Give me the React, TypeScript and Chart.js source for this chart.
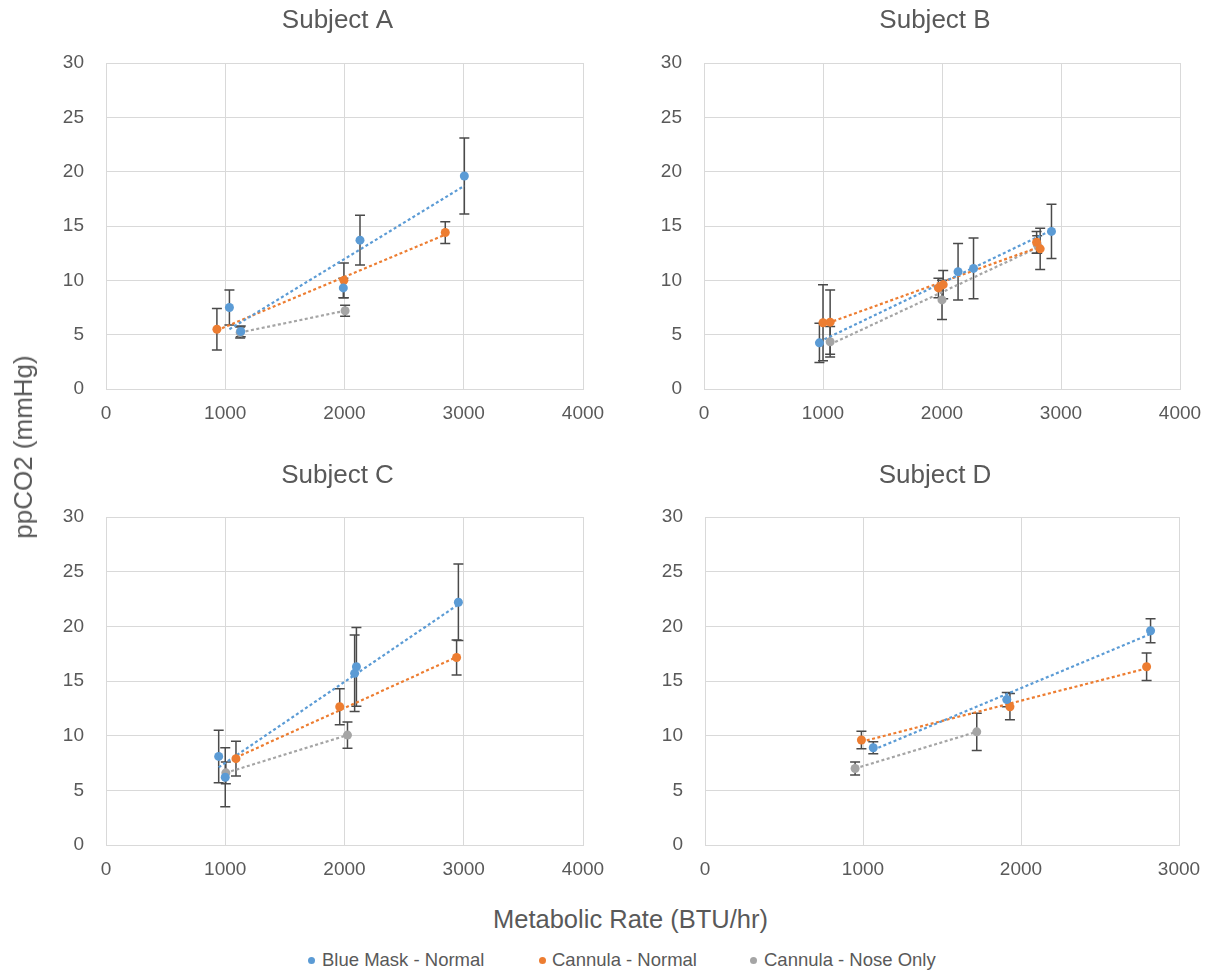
import React, { useEffect, useRef } from "react";
import { Chart, registerables } from "chart.js";

Chart.register(...registerables);

// ---------- data ----------
const SERIES_NAMES = ["Blue Mask - Normal", "Cannula - Normal", "Cannula - Nose Only"];
const SERIES_COLORS = ["#5b9bd5", "#ed7d31", "#a5a5a5"];
const PANEL_TITLES = ["Subject A", "Subject B", "Subject C", "Subject D"];
const Y_TICK_STEP = 5;
const Y_MAX = 30;
const X_MAX_ABC = 4000;
const X_MAX_D = 3000;
const X_TICK_STEP = 1000;
const X_AXIS_TITLE = "Metabolic Rate (BTU/hr)";
const Y_AXIS_TITLE = "ppCO2 (mmHg)";

// Subject A
const A_BLUE_X = [1035, 1130, 1990, 2130, 3005];
const A_BLUE_Y = [7.5, 5.3, 9.3, 13.7, 19.6];
const A_BLUE_ERR = [1.6, 0.5, 0.9, 2.3, 3.5];
const A_ORANGE_X = [930, 1995, 2845];
const A_ORANGE_Y = [5.5, 10.0, 14.4];
const A_ORANGE_ERR = [1.9, 1.6, 1.0];
const A_GRAY_X = [1125, 2005];
const A_GRAY_Y = [5.2, 7.2];
const A_GRAY_ERR = [0.5, 0.5];
const A_BLUE_TREND_X = [1035, 3005];
const A_BLUE_TREND_Y = [5.5, 18.7];
const A_ORANGE_TREND_X = [930, 2845];
const A_ORANGE_TREND_Y = [5.4, 14.2];
const A_GRAY_TREND_X = [1125, 2005];
const A_GRAY_TREND_Y = [5.2, 7.2];

// Subject B
const B_BLUE_X = [970, 2135, 2265, 2920];
const B_BLUE_Y = [4.25, 10.8, 11.1, 14.5];
const B_BLUE_ERR = [1.8, 2.6, 2.8, 2.5];
const B_ORANGE_X = [1000, 1060, 1970, 2010, 2795, 2825];
const B_ORANGE_Y = [6.1, 6.15, 9.3, 9.6, 13.5, 12.9];
const B_ORANGE_ERR = [3.5, 2.95, 0.9, 1.3, 1.0, 1.9];
const B_GRAY_X = [1060, 2000, 2800];
const B_GRAY_Y = [4.35, 8.2, 13.3];
const B_GRAY_ERR = [1.4, 1.8, 0.8];
const B_BLUE_TREND_X = [970, 2920];
const B_BLUE_TREND_Y = [4.35, 14.6];
const B_ORANGE_TREND_X = [1000, 2825];
const B_ORANGE_TREND_Y = [5.9, 13.1];
const B_GRAY_TREND_X = [1060, 2800];
const B_GRAY_TREND_Y = [4.1, 13.0];

// Subject C
const C_BLUE_X = [945, 1000, 2085, 2100, 2955];
const C_BLUE_Y = [8.1, 6.2, 15.7, 16.3, 22.2];
const C_BLUE_ERR = [2.4, 2.7, 3.5, 3.6, 3.5];
const C_ORANGE_X = [1090, 1960, 2940];
const C_ORANGE_Y = [7.9, 12.65, 17.15];
const C_ORANGE_ERR = [1.6, 1.65, 1.6];
const C_GRAY_X = [1005, 2025];
const C_GRAY_Y = [6.6, 10.05];
const C_GRAY_ERR = [1.0, 1.2];
const C_BLUE_TREND_X = [945, 2955];
const C_BLUE_TREND_Y = [7.1, 22.0];
const C_ORANGE_TREND_X = [1090, 2940];
const C_ORANGE_TREND_Y = [8.0, 17.2];
const C_GRAY_TREND_X = [1005, 2025];
const C_GRAY_TREND_Y = [6.6, 10.05];

// Subject D
const D_BLUE_X = [1065, 1910, 2820];
const D_BLUE_Y = [8.9, 13.3, 19.6];
const D_BLUE_ERR = [0.55, 0.65, 1.1];
const D_ORANGE_X = [990, 1930, 2795];
const D_ORANGE_Y = [9.6, 12.65, 16.3];
const D_ORANGE_ERR = [0.8, 1.2, 1.25];
const D_GRAY_X = [950, 1720];
const D_GRAY_Y = [7.0, 10.35];
const D_GRAY_ERR = [0.6, 1.7];
const D_BLUE_TREND_X = [1065, 2820];
const D_BLUE_TREND_Y = [8.7, 19.3];
const D_ORANGE_TREND_X = [990, 2795];
const D_ORANGE_TREND_Y = [9.45, 16.15];
const D_GRAY_TREND_X = [950, 1720];
const D_GRAY_TREND_Y = [7.0, 10.35];

// ---------- styling ----------
const FONT = "'Liberation Sans', Arial, Helvetica, sans-serif";
const TEXT_COLOR = "#595959";
const GRID_COLOR = "#d9d9d9";
const ERR_COLOR = "#4a4a4a";

type Series = { x: number[]; y: number[]; err: number[]; tx: number[]; ty: number[] };

const PANEL_SERIES: Series[][] = [
  [
    { x: A_BLUE_X, y: A_BLUE_Y, err: A_BLUE_ERR, tx: A_BLUE_TREND_X, ty: A_BLUE_TREND_Y },
    { x: A_ORANGE_X, y: A_ORANGE_Y, err: A_ORANGE_ERR, tx: A_ORANGE_TREND_X, ty: A_ORANGE_TREND_Y },
    { x: A_GRAY_X, y: A_GRAY_Y, err: A_GRAY_ERR, tx: A_GRAY_TREND_X, ty: A_GRAY_TREND_Y },
  ],
  [
    { x: B_BLUE_X, y: B_BLUE_Y, err: B_BLUE_ERR, tx: B_BLUE_TREND_X, ty: B_BLUE_TREND_Y },
    { x: B_ORANGE_X, y: B_ORANGE_Y, err: B_ORANGE_ERR, tx: B_ORANGE_TREND_X, ty: B_ORANGE_TREND_Y },
    { x: B_GRAY_X, y: B_GRAY_Y, err: B_GRAY_ERR, tx: B_GRAY_TREND_X, ty: B_GRAY_TREND_Y },
  ],
  [
    { x: C_BLUE_X, y: C_BLUE_Y, err: C_BLUE_ERR, tx: C_BLUE_TREND_X, ty: C_BLUE_TREND_Y },
    { x: C_ORANGE_X, y: C_ORANGE_Y, err: C_ORANGE_ERR, tx: C_ORANGE_TREND_X, ty: C_ORANGE_TREND_Y },
    { x: C_GRAY_X, y: C_GRAY_Y, err: C_GRAY_ERR, tx: C_GRAY_TREND_X, ty: C_GRAY_TREND_Y },
  ],
  [
    { x: D_BLUE_X, y: D_BLUE_Y, err: D_BLUE_ERR, tx: D_BLUE_TREND_X, ty: D_BLUE_TREND_Y },
    { x: D_ORANGE_X, y: D_ORANGE_Y, err: D_ORANGE_ERR, tx: D_ORANGE_TREND_X, ty: D_ORANGE_TREND_Y },
    { x: D_GRAY_X, y: D_GRAY_Y, err: D_GRAY_ERR, tx: D_GRAY_TREND_X, ty: D_GRAY_TREND_Y },
  ],
];

// layout of each panel canvas (page pixels)
const PANEL_LAYOUT = [
  { left: 0, top: 0, width: 610, height: 430, padRight: 27, titleY: 21, xMax: X_MAX_ABC },
  { left: 598, top: 0, width: 610, height: 430, padRight: 28, titleY: 21, xMax: X_MAX_ABC },
  { left: 0, top: 454, width: 610, height: 432, padRight: 27, titleY: 22, xMax: X_MAX_ABC },
  { left: 599, top: 454, width: 610, height: 432, padRight: 30, titleY: 22, xMax: X_MAX_D },
];

const errorBarPlugin = {
  id: "errorBars",
  beforeDatasetsDraw(chart: any) {
    const { ctx } = chart;
    const xs = chart.scales.x;
    const ys = chart.scales.y;
    ctx.save();
    ctx.strokeStyle = ERR_COLOR;
    ctx.lineWidth = 1.5;
    chart.data.datasets.forEach((ds: any) => {
      if (!ds.errors) return;
      ds.data.forEach((p: any, i: number) => {
        const e = ds.errors[i];
        const px = xs.getPixelForValue(p.x);
        const top = ys.getPixelForValue(p.y + e);
        const bot = ys.getPixelForValue(p.y - e);
        ctx.beginPath();
        ctx.moveTo(px, top);
        ctx.lineTo(px, bot);
        ctx.moveTo(px - 5, top);
        ctx.lineTo(px + 5, top);
        ctx.moveTo(px - 5, bot);
        ctx.lineTo(px + 5, bot);
        ctx.stroke();
      });
    });
    ctx.restore();
  },
};

const panelTitlePlugin = {
  id: "panelTitle",
  afterDraw(chart: any, _args: any, opts: any) {
    const { ctx, chartArea } = chart;
    ctx.save();
    ctx.font = `26px ${FONT}`;
    ctx.fillStyle = TEXT_COLOR;
    ctx.textAlign = "center";
    ctx.textBaseline = "middle";
    ctx.fillText(opts.text, (chartArea.left + chartArea.right) / 2 - 7, opts.y);
    ctx.restore();
  },
};

const plainNumber = (v: any) => String(v);

function Panel({ index }: { index: number }) {
  const ref = useRef<HTMLCanvasElement | null>(null);
  const lay = PANEL_LAYOUT[index];
  useEffect(() => {
    if (!ref.current) return;
    const series = PANEL_SERIES[index];
    const datasets: any[] = [];
    series.forEach((s, si) => {
      datasets.push({
        label: SERIES_NAMES[si] + " trend",
        data: s.tx.map((x, i) => ({ x, y: s.ty[i] })),
        showLine: true,
        borderColor: SERIES_COLORS[si],
        borderWidth: 2.2,
        borderDash: [3, 2.5],
        pointRadius: 0,
        fill: false,
        order: 5,
      });
    });
    series.forEach((s, si) => {
      datasets.push({
        label: SERIES_NAMES[si],
        data: s.x.map((x, i) => ({ x, y: s.y[i] })),
        errors: s.err,
        showLine: false,
        pointRadius: 4.5,
        pointBackgroundColor: SERIES_COLORS[si],
        pointBorderWidth: 0,
        borderColor: SERIES_COLORS[si],
        order: 1,
      });
    });
    const tickFont = { family: FONT, size: 19 };
    const chart = new Chart(ref.current, {
      type: "scatter",
      data: { datasets },
      plugins: [errorBarPlugin, panelTitlePlugin],
      options: {
        animation: false,
        responsive: false,
        devicePixelRatio: 1,
        layout: { padding: { top: 63, left: 0, right: lay.padRight, bottom: 0 } },
        plugins: {
          legend: { display: false },
          tooltip: { enabled: false },
          title: { display: false },
          panelTitle: { text: PANEL_TITLES[index], y: lay.titleY },
        } as any,
        scales: {
          x: {
            type: "linear",
            min: 0,
            max: lay.xMax,
            ticks: {
              stepSize: X_TICK_STEP,
              color: TEXT_COLOR,
              font: tickFont,
              padding: 13,
              maxRotation: 0,
              autoSkip: false,
              callback: plainNumber,
            },
            grid: { color: GRID_COLOR, drawTicks: false, lineWidth: 1 },
            border: { color: GRID_COLOR },
            afterFit: (scale: any) => {
              scale.height = 41;
              scale.paddingLeft = 0;
              scale.paddingRight = 0;
            },
          },
          y: {
            type: "linear",
            min: 0,
            max: Y_MAX,
            ticks: {
              stepSize: Y_TICK_STEP,
              color: TEXT_COLOR,
              font: tickFont,
              padding: 22,
              callback: plainNumber,
            },
            grid: { color: GRID_COLOR, drawTicks: false, lineWidth: 1 },
            border: { color: GRID_COLOR },
            afterFit: (scale: any) => {
              scale.width = 106;
              scale.paddingTop = 0;
              scale.paddingBottom = 0;
            },
          },
        },
      } as any,
    });
    return () => chart.destroy();
  }, [index]);
  return (
    <canvas
      ref={ref}
      width={lay.width}
      height={lay.height}
      style={{ position: "absolute", left: lay.left, top: lay.top, width: lay.width, height: lay.height }}
    />
  );
}

const LEGEND_POS = [
  { dot: 311, text: 322 },
  { dot: 542, text: 552 },
  { dot: 753, text: 764 },
];

export default function App() {
  return (
    <div
      style={{
        position: "absolute",
        left: 0,
        top: 0,
        width: 1211,
        height: 972,
        background: "#ffffff",
        overflow: "hidden",
        fontFamily: FONT,
        color: TEXT_COLOR,
      }}
    >
      {[0, 1, 2, 3].map((i) => (
        <Panel key={i} index={i} />
      ))}
      <div
        style={{
          position: "absolute",
          left: 23,
          top: 447,
          transform: "translate(-50%, -50%) rotate(-90deg)",
          fontSize: 26,
          lineHeight: 1,
          whiteSpace: "nowrap",
        }}
      >
        {Y_AXIS_TITLE}
      </div>
      <div
        style={{
          position: "absolute",
          left: 493,
          top: 920,
          transform: "translateY(-50%)",
          fontSize: 25.5,
          lineHeight: 1,
          whiteSpace: "nowrap",
        }}
      >
        {X_AXIS_TITLE}
      </div>
      {SERIES_NAMES.map((name, i) => (
        <React.Fragment key={name}>
          <div
            style={{
              position: "absolute",
              left: LEGEND_POS[i].dot - 3.5,
              top: 960 - 3.5,
              width: 7,
              height: 7,
              borderRadius: 3.5,
              background: SERIES_COLORS[i],
            }}
          />
          <div
            style={{
              position: "absolute",
              left: LEGEND_POS[i].text,
              top: 960,
              transform: "translateY(-50%)",
              fontSize: 18.5,
              lineHeight: 1,
              whiteSpace: "nowrap",
            }}
          >
            {name}
          </div>
        </React.Fragment>
      ))}
    </div>
  );
}
